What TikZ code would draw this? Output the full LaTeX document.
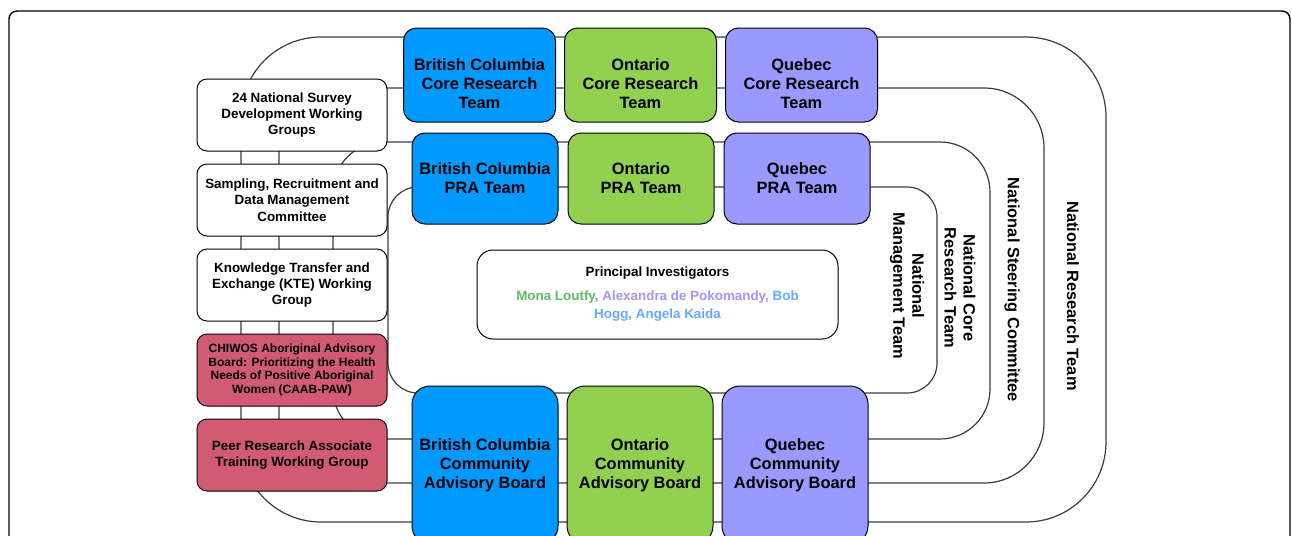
\documentclass[tikz,border=0pt]{standalone}
\usepackage{fontspec}
\setmainfont{Liberation Sans}
\usetikzlibrary{positioning}
\definecolor{bcblue}{RGB}{0,153,255}
\definecolor{ongreen}{RGB}{146,208,80}
\definecolor{qcpurple}{RGB}{153,153,255}
\definecolor{aborig}{RGB}{210,90,115}
\definecolor{loopgray}{RGB}{60,60,60}
\definecolor{namegreen}{RGB}{100,184,100}
\definecolor{nameblue}{RGB}{102,170,255}
\NewDocumentCommand{\toppad}{}{\rule{0pt}{15pt}}

\begin{document}
\begin{tikzpicture}[x=0.5pt, y=-0.5pt, node distance={42.5pt}, line width=0.5pt,
    box/.style = {draw, align=center, inner sep=1pt},
    bigtext/.style = {font=\fontsize{8.2}{9.5}\selectfont\bfseries},
    midtext/.style = {font=\fontsize{6.7}{8.15}\selectfont\bfseries},
    smalltext/.style = {font=\fontsize{6}{6.85}\selectfont\bfseries},
    group/.style = {box, midtext, fill=white, rounded corners=5pt, minimum width=95pt, minimum height=36pt},
    core/.style = {box, bigtext, rounded corners=6.5pt, minimum width=76pt, minimum height=47pt, node distance=80.5pt},
    pra/.style = {box, bigtext, rounded corners=6.5pt, minimum width=73pt, minimum height=45.5pt, node distance=78pt},
    cab/.style = {box, bigtext, rounded corners=9pt, minimum width=73pt, minimum height=79pt, node distance=77.5pt},
    looplabel/.style = {bigtext, align=center, rotate=-90},
    ring/.style = {draw=loopgray, line width=0.6pt}]
    \path[use as bounding box, clip] (0,0) rectangle (1292,536);
    \draw[line width=0.7pt, rounded corners=4pt] (9,11) rectangle (1290,560);

    % team rings
    \draw[ring, rounded corners=40pt] (241,37) rectangle (1106,522);
    \draw[ring, rounded corners=30pt] (279,88) rectangle (1044,483);
    \draw[ring, rounded corners=25pt] (333,142) rectangle (990,439);
    \draw[ring, rounded corners=15pt] (388,187) rectangle (937,393);

    \node[looplabel] (nrt) at (1073,296) {National Research Team};
    \node[looplabel] (nsc) at (1012,290) {National Steering Committee};
    \node[looplabel] (ncrt) at (960,288) {National Core\\Research Team};
    \node[looplabel] (nmt) at (907,286) {National\\Management Team};

    % working groups
    \node[group] (survey) at (292,115) {24 National Survey\\Development Working\\Groups};
    \node[group] (sampling) [below of=survey] {Sampling, Recruitment and\\Data Management\\Committee};
    \node[group] (kte) [below of=sampling] {Knowledge Transfer and\\Exchange (KTE) Working\\Group};
    \node[group, smalltext, fill=aborig] (caab) [below of=kte] {CHIWOS Aboriginal Advisory\\Board: Prioritizing the Health\\Needs of Positive Aboriginal\\Women (CAAB-PAW)};
    \node[group, fill=aborig] (peer) [below of=caab] {Peer Research Associate\\Training Working Group};

    % provincial teams
    \node[core, fill=bcblue] (bccore) at (479.5,75) {\toppad British Columbia\\Core Research\\Team};
    \node[core, fill=ongreen] (oncore) [right of=bccore] {\toppad Ontario\\Core Research\\Team};
    \node[core, fill=qcpurple] (qccore) [right of=oncore] {\toppad Quebec\\Core Research\\Team};

    \node[pra, fill=bcblue] (bcpra) at (485,178.5) {British Columbia\\PRA Team};
    \node[pra, fill=ongreen] (onpra) [right of=bcpra] {Ontario\\PRA Team};
    \node[pra, fill=qcpurple] (qcpra) [right of=onpra] {Quebec\\PRA Team};

    \node[cab, fill=bcblue] (bccab) at (485,465) {British Columbia\\Community\\Advisory Board};
    \node[cab, fill=ongreen] (oncab) [right of=bccab] {Ontario\\Community\\Advisory Board};
    \node[cab, fill=qcpurple] (qccab) [right of=oncab] {Quebec\\Community\\Advisory Board};

    \node[box, fill=white, rounded corners=8pt, minimum width=180.5pt, minimum height=44.5pt,
        font=\fontsize{6.7}{9}\selectfont\bfseries] (pi) at (657.5,294.5)
        {Principal Investigators\\[3pt]\textcolor{namegreen}{Mona Loutfy,} \textcolor{qcpurple}{Alexandra de Pokomandy,} \textcolor{nameblue}{Bob}\\\textcolor{nameblue}{Hogg, Angela Kaida}};
\end{tikzpicture}
\end{document}
